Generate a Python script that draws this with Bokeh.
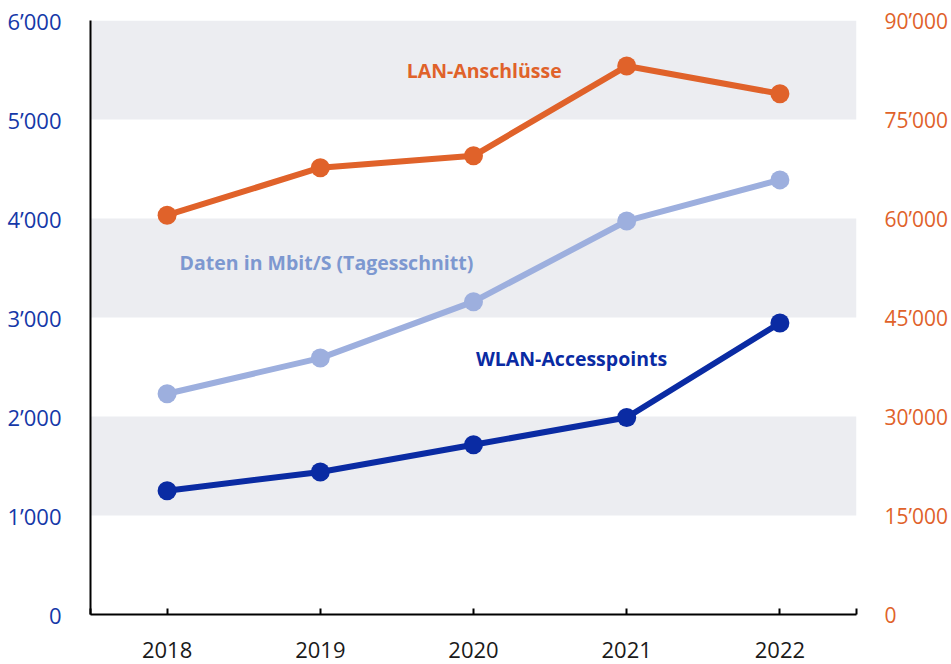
from bokeh.plotting import figure
from bokeh.models import Range1d, LinearAxis, FixedTicker, BoxAnnotation, Label
from bokeh.embed import file_html
from bokeh.resources import INLINE

# ---- data ----
years = [2018, 2019, 2020, 2021, 2022]
wlan = [1250, 1440, 1715, 1990, 2945]          # left axis
daten = [2230, 2590, 3160, 3975, 4390]         # left axis
lan = [60500, 67700, 69500, 83100, 78900]      # right axis

left_ticks = [0, 1000, 2000, 3000, 4000, 5000, 6000]
left_labels = ["0", "1’000", "2’000", "3’000", "4’000", "5’000", "6’000"]
right_ticks = [0, 15000, 30000, 45000, 60000, 75000, 90000]
right_labels = ["0", "15’000", "30’000", "45’000", "60’000", "75’000", "90’000"]
band_bottoms = [1000, 3000, 5000]
band_tops = [2000, 4000, 6000]

series_names = ["LAN-Anschlüsse", "Daten in Mbit/S (Tagesschnitt)", "WLAN-Accesspoints"]

# ---- styles ----
C_DARK = "#0A2BA3"
C_LIGHT = "#9DAFDE"
C_LIGHT_TXT = "#7D98D0"
C_ORANGE = "#E0622A"
C_BAND = "#ECEDF1"
FONT = "Open Sans"

p = figure(width=951, height=664, output_backend="svg", toolbar_location=None,
           x_range=Range1d(2017.5, 2022.5), y_range=Range1d(0, 6000),
           min_border_left=90, min_border_right=93, min_border_top=20, min_border_bottom=50)
p.extra_y_ranges = {"lan": Range1d(0, 90000)}
p.outline_line_color = None
p.xgrid.visible = False
p.ygrid.visible = False
p.background_fill_color = "white"

for b, t in zip(band_bottoms, band_tops):
    p.add_layout(BoxAnnotation(bottom=b, top=t, fill_color=C_BAND, fill_alpha=1.0,
                               line_color=None, level="underlay"))

# x axis
xa = p.xaxis[0]
xticks = [2017.5] + years + [2022.5]
xa.ticker = FixedTicker(ticks=xticks)
xa.major_label_overrides = {2017.5: "", 2022.5: "", **{y: str(y) for y in years}}
xa.axis_line_color = "black"
xa.axis_line_width = 2
xa.major_tick_in = 6
xa.major_tick_out = 0
xa.major_tick_line_width = 2
xa.major_tick_line_color = "black"
xa.minor_tick_line_color = None
xa.major_label_text_font = FONT
xa.major_label_text_font_size = "22px"
xa.major_label_text_color = "#1a1a1a"
xa.major_label_standoff = 27

# left axis
ya = p.yaxis[0]
ya.ticker = FixedTicker(ticks=left_ticks)
ya.major_label_overrides = dict(zip(left_ticks, left_labels))
ya.axis_line_color = "black"
ya.axis_line_width = 2
ya.major_tick_line_color = None
ya.minor_tick_line_color = None
ya.major_label_text_font = FONT
ya.major_label_text_font_size = "22px"
ya.major_label_text_color = "#1538A8"
ya.major_label_standoff = 23

# right axis
ra = LinearAxis(y_range_name="lan")
ra.ticker = FixedTicker(ticks=right_ticks)
ra.major_label_overrides = dict(zip(right_ticks, right_labels))
ra.axis_line_color = None
ra.major_tick_line_color = None
ra.minor_tick_line_color = None
ra.major_label_text_font = FONT
ra.major_label_text_font_size = "21px"
ra.major_label_text_color = C_ORANGE
ra.major_label_standoff = 22
p.add_layout(ra, "right")

# series
p.line(years, lan, y_range_name="lan", line_color=C_ORANGE, line_width=6)
p.scatter(years, lan, y_range_name="lan", size=19, fill_color=C_ORANGE, line_color=None)
p.line(years, daten, line_color=C_LIGHT, line_width=6)
p.scatter(years, daten, size=19, fill_color=C_LIGHT, line_color=None)
p.line(years, wlan, line_color=C_DARK, line_width=6)
p.scatter(years, wlan, size=19, fill_color=C_DARK, line_color=None)

# series labels
label_pos = [(2020.07, 5490), (2019.04, 3560), (2020.64, 2585)]
label_colors = [C_ORANGE, C_LIGHT_TXT, C_DARK]
for name, (lx, ly), c in zip(series_names, label_pos, label_colors):
    p.add_layout(Label(x=lx, y=ly, text=name, text_align="center", text_baseline="middle",
                       text_font=FONT, text_font_size="19.5px", text_font_style="bold",
                       text_color=c))

open("out.html", "w").write(file_html(p, INLINE))
